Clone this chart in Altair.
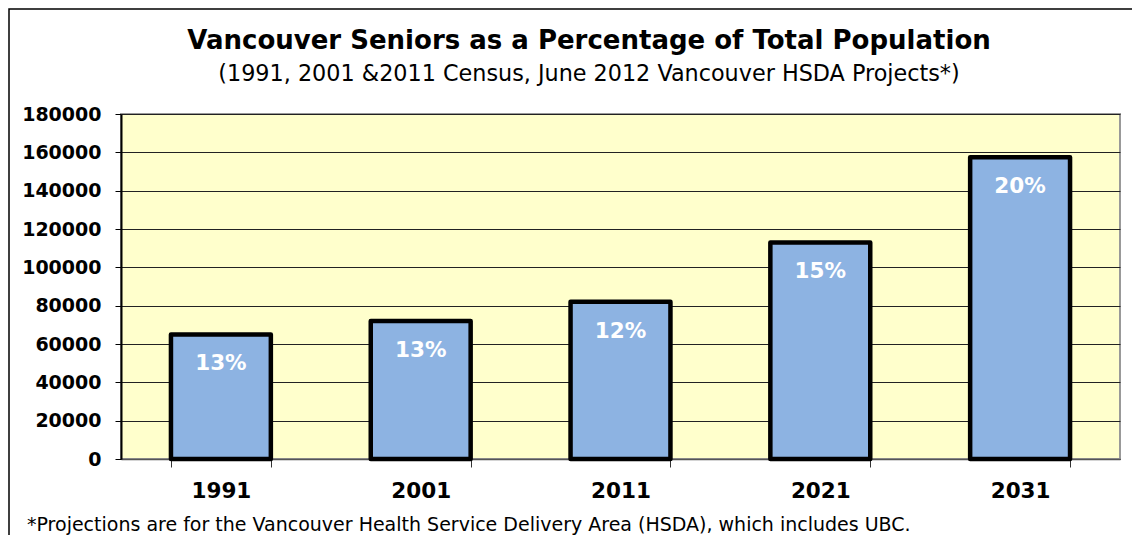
import altair as alt
import pandas as pd

years = ["1991", "2001", "2011", "2021", "2031"]
seniors = [65000, 72000, 82000, 113000, 157500]
share_labels = ["13%", "13%", "12%", "15%", "20%"]
y_ticks = [0, 20000, 40000, 60000, 80000, 100000, 120000, 140000, 160000, 180000]

title_text = "Vancouver Seniors as a Percentage of Total Population"
subtitle_text = "(1991, 2001 &2011 Census, June 2012 Vancouver HSDA Projects*)"
footnote_text = "*Projections are for the Vancouver Health Service Delivery Area (HSDA), which includes UBC."

FONT = "DejaVu Sans"

df = pd.DataFrame({"year": years, "seniors": seniors, "label": share_labels})
one = pd.DataFrame({"k": [0]})

x_enc = alt.X(
    "year:N",
    sort=years,
    scale=alt.Scale(paddingInner=0.5, paddingOuter=0.25),
    axis=alt.Axis(
        title=None, labelAngle=0, labelFont=FONT, labelFontSize=21.5,
        labelFontWeight="bold", labelColor="black", labelPadding=13,
        tickBand="extent", tickSize=8, tickColor="#333333",
        domainColor="#555555", domainWidth=1.5, grid=False,
    ),
)
y_enc = alt.Y(
    "seniors:Q",
    scale=alt.Scale(domain=[0, 180000], nice=False),
    axis=alt.Axis(
        title=None, values=y_ticks, tickCount=len(y_ticks), format="d",
        labelFont=FONT, labelFontSize=19, labelFontWeight="bold",
        labelColor="black", labelPadding=14, tickSize=6, tickColor="black",
        domainColor="black", domainWidth=2, gridColor="#222222", gridWidth=1,
        labelOverlap=False,
    ),
)

frame = alt.Chart(one).mark_rect(fill=None, stroke="black", strokeWidth=1.5).encode(
    x=alt.value(-112), x2=alt.value(1100), y=alt.value(-105), y2=alt.value(500)
)

bars = alt.Chart(df).mark_bar(
    color="#8DB3E2", stroke="black", strokeWidth=4.5, strokeJoin="round"
).encode(x=x_enc, y=y_enc)

labels = alt.Chart(df).mark_text(
    dy=30, baseline="middle", color="white", font=FONT, fontSize=21.5, fontWeight="bold"
).encode(x=x_enc, y=y_enc, text="label:N")

title = alt.Chart(one).mark_text(
    text=title_text, font=FONT, fontSize=26, fontWeight="bold", color="black",
    align="center", baseline="alphabetic"
).encode(x=alt.value(468), y=alt.value(-65))

subtitle = alt.Chart(one).mark_text(
    text=subtitle_text, font=FONT, fontSize=22.3, color="black",
    align="center", baseline="alphabetic"
).encode(x=alt.value(468), y=alt.value(-33))

foot = alt.Chart(one).mark_text(
    text=footnote_text, font=FONT, fontSize=19, color="black",
    align="left", baseline="alphabetic"
).encode(x=alt.value(-94), y=alt.value(417))

chart = alt.layer(frame, bars, labels, title, subtitle, foot).properties(
    width=999, height=345,
    background="white",
    autosize=alt.AutoSizeParams(type="none"),
    padding={"left": 113, "top": 106, "right": 12, "bottom": 76},
).configure_view(
    fill="#FFFFCC", stroke="#999999", strokeWidth=2
)

chart.save("out.html", embed_options={"renderer": "svg", "actions": False})
